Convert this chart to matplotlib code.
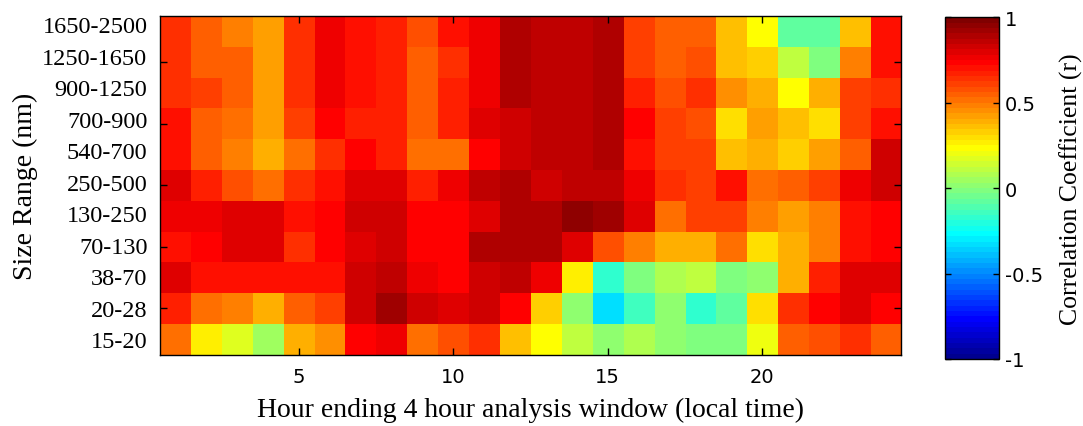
import matplotlib.pyplot as plt
import numpy as np
from matplotlib.colors import ListedColormap

size_ranges = ['1650-2500', '1250-1650', '900-1250', '700-900', '540-700', '250-500',
               '130-250', '70-130', '38-70', '20-28', '15-20']
hours = np.arange(1, 25)

# correlation coefficient, one row per size range (top to bottom), one value per hour
r_1650_2500 = [0.625, 0.56, 0.485, 0.42, 0.625, 0.765, 0.705, 0.685, 0.59, 0.695, 0.765, 0.89,
               0.86, 0.86, 0.89, 0.61, 0.535, 0.545, 0.345, 0.235, -0.075, -0.075, 0.37, 0.705]
r_1250_1650 = [0.625, 0.56, 0.56, 0.42, 0.625, 0.765, 0.705, 0.685, 0.545, 0.625, 0.765, 0.89,
               0.86, 0.86, 0.89, 0.61, 0.535, 0.575, 0.37, 0.315, 0.10, -0.015, 0.485, 0.705]
r_900_1250 = [0.625, 0.595, 0.56, 0.42, 0.625, 0.765, 0.705, 0.685, 0.545, 0.675, 0.765, 0.89,
              0.86, 0.86, 0.89, 0.675, 0.565, 0.64, 0.455, 0.38, 0.235, 0.38, 0.61, 0.64]
r_700_900 = [0.695, 0.535, 0.525, 0.42, 0.61, 0.735, 0.675, 0.675, 0.535, 0.675, 0.80, 0.835,
             0.86, 0.86, 0.89, 0.735, 0.60, 0.565, 0.31, 0.41, 0.345, 0.30, 0.60, 0.705]
r_540_700 = [0.695, 0.535, 0.495, 0.40, 0.515, 0.64, 0.735, 0.665, 0.525, 0.515, 0.735, 0.835,
             0.86, 0.86, 0.89, 0.705, 0.60, 0.60, 0.36, 0.375, 0.335, 0.42, 0.545, 0.825]
r_250_500 = [0.80, 0.675, 0.565, 0.505, 0.63, 0.695, 0.80, 0.80, 0.665, 0.78, 0.86, 0.89,
             0.825, 0.86, 0.86, 0.765, 0.64, 0.60, 0.695, 0.505, 0.535, 0.60, 0.765, 0.815]
r_130_250 = [0.765, 0.765, 0.80, 0.795, 0.705, 0.735, 0.815, 0.815, 0.735, 0.735, 0.80, 0.89,
             0.905, 0.94, 0.91, 0.80, 0.515, 0.61, 0.61, 0.475, 0.42, 0.475, 0.705, 0.735]
r_70_130 = [0.705, 0.735, 0.80, 0.80, 0.63, 0.735, 0.795, 0.815, 0.735, 0.735, 0.89, 0.905,
            0.905, 0.80, 0.565, 0.47, 0.39, 0.39, 0.515, 0.30, 0.39, 0.475, 0.705, 0.735]
r_38_70 = [0.795, 0.705, 0.705, 0.705, 0.705, 0.705, 0.815, 0.85, 0.765, 0.735, 0.815, 0.86,
           0.765, 0.27, -0.17, -0.015, 0.08, 0.11, -0.015, 0.015, 0.39, 0.675, 0.80, 0.80]
r_20_28 = [0.665, 0.505, 0.475, 0.40, 0.535, 0.60, 0.825, 0.92, 0.835, 0.795, 0.825, 0.735,
           0.335, 0.015, -0.33, -0.14, 0.015, -0.17, -0.075, 0.30, 0.64, 0.735, 0.80, 0.735]
r_15_20 = [0.505, 0.27, 0.17, 0.05, 0.38, 0.455, 0.735, 0.765, 0.515, 0.565, 0.63, 0.37,
           0.235, 0.11, 0.015, 0.08, 0.015, -0.015, -0.015, 0.20, 0.535, 0.575, 0.64, 0.545]

corr = np.array([r_1650_2500, r_1250_1650, r_900_1250, r_700_900, r_540_700, r_250_500,
                 r_130_250, r_70_130, r_38_70, r_20_28, r_15_20])

# MATLAB jet(64)
m, n = 64, 16
u = np.concatenate([np.arange(1, n + 1) / n, np.ones(n - 1), np.arange(n, 0, -1) / n])
g = int(np.ceil(n / 2)) - (m % 4 == 1) + np.arange(1, len(u) + 1)
rr = g + n
bb = g - n
J = np.zeros((m, 3))
J[rr[rr <= m] - 1, 0] = u[rr <= m]
J[g[g <= m] - 1, 1] = u[g <= m]
J[bb[bb >= 1] - 1, 2] = u[bb >= 1]
mjet = ListedColormap(J)

serif = ['Liberation Serif', 'DejaVu Serif']
sans = ['DejaVu Sans']

fig = plt.figure(figsize=(10.83, 4.27), dpi=100)
ax = fig.add_axes([0.1477, 0.1674, 0.6843, 0.7935])
cax = fig.add_axes([0.8726, 0.157, 0.0499, 0.800])

nrows = len(size_ranges)
im = ax.imshow(corr, cmap=mjet, vmin=-1, vmax=1, aspect='auto',
               interpolation='nearest',
               extent=(hours[0] - 0.5, hours[-1] + 0.5, nrows + 0.5, 0.5))

# size range labels
ax.set_yticks(np.linspace(0.77, 11.0, nrows))
ax.set_yticklabels(size_ranges, family=serif, fontsize=17.5)
ax.tick_params(axis='y', which='major', length=0, pad=9)
ax.set_yticks(np.arange(2, nrows, 2), minor=True)
ax.tick_params(axis='y', which='minor', direction='in', length=5, width=1,
               left=True, right=True)

ax.set_xticks([5, 10, 15, 20])
ax.set_xticklabels(['5', '10', '15', '20'], family=sans, fontsize=14)
ax.tick_params(axis='x', direction='in', length=5, width=1, top=True, bottom=True, pad=9)

ax.set_xlabel('Hour ending 4 hour analysis window (local time)', family=serif,
              fontsize=20, labelpad=8)
ax.set_ylabel('Size Range (nm)', family=serif, fontsize=20, labelpad=3)
for s in ax.spines.values():
    s.set_linewidth(1)

cb = fig.colorbar(im, cax=cax, ticks=[-1, -0.5, 0, 0.5, 1])
cb.ax.set_yticklabels(['-1', '-0.5', '0', '0.5', '1'], family=sans, fontsize=14)
cb.ax.tick_params(direction='in', length=4, width=1, left=True, right=True, pad=4)
cb.outline.set_linewidth(1)
cb.set_label('Correlation Coefficient (r)', family=serif, fontsize=18.5, labelpad=12)

fig.savefig('out.png', dpi=100)
